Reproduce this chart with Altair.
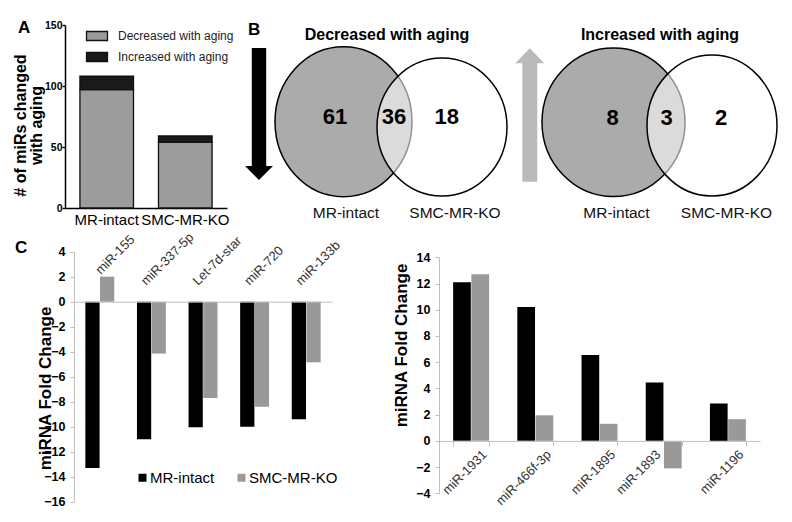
import altair as alt
import pandas as pd

# ------------------------------------------------------------------ data
groups = ["MR-intact", "SMC-MR-KO"]
changes = ["Decreased with aging", "Increased with aging"]
decreased_counts = [97, 54]
increased_counts = [11, 5]

venn_decreased = [61, 36, 18]          # MR-intact only, both, SMC-MR-KO only
venn_increased = [8, 3, 2]

series = ["MR-intact", "SMC-MR-KO"]
c_left_mirs = ["miR-155", "miR-337-5p", "Let-7d-star", "miR-720", "miR-133b"]
c_left_intact = [-13.3, -11.0, -10.05, -10.0, -9.4]
c_left_ko = [2.0, -4.15, -7.7, -8.4, -4.85]
c_right_mirs = ["miR-1931", "miR-466f-3p", "miR-1895", "miR-1893", "miR-1196"]
c_right_intact = [12.1, 10.2, 6.55, 4.45, 2.85]
c_right_ko = [12.7, 1.95, 1.3, -2.1, 1.65]

a_ticks = [0, 50, 100, 150]
c_left_ticks = [-16, -14, -12, -10, -8, -6, -4, -2, 0, 2, 4]
c_right_ticks = [-4, -2, 0, 2, 4, 6, 8, 10, 12, 14]

# ------------------------------------------------------------------ layout / style
W, H = 776, 506
FONT = "Liberation Sans"
AXGRAY = "#bfbfbf"

def ellipse(k):
    return f"M -1 0 A 1 {k} 0 1 1 1 0 A 1 {k} 0 1 1 -1 0 Z"

RECT_SYMBOL = "M -2 -0.86 L 2 -0.86 L 2 0.86 L -2 0.86 Z"
DOWN_ARROW = "M -0.109 -1 L 0.109 -1 L 0.109 0.788 L 0.212 0.788 L 0 1 L -0.212 0.788 L -0.109 0.788 Z"
UP_ARROW = "M -0.112 1 L 0.112 1 L 0.112 -0.775 L 0.217 -0.775 L 0 -1 L -0.217 -0.775 L -0.112 -0.775 Z"

# ------------------------------------------------------------------ panel A
dfA = pd.DataFrame({
    "group": groups * 2,
    "change": [changes[0]] * 2 + [changes[1]] * 2,
    "count": decreased_counts + increased_counts,
    "stackorder": [0, 0, 1, 1],
})
panelA = alt.Chart(dfA).mark_bar(stroke="#111111", strokeWidth=1.3).encode(
    x=alt.X("group:N", sort=groups,
            scale=alt.Scale(domain=groups, range=[57, 219], paddingInner=0.318, paddingOuter=0.19),
            axis=alt.Axis(orient="bottom", offset=200 - H, title=None, ticks=False,
                          domainColor="#000000", domainWidth=1.5, labelAngle=0,
                          labelFont=FONT, labelFontSize=15, labelColor="#000000", labelPadding=4)),
    y=alt.Y("count:Q", stack="zero",
            scale=alt.Scale(domain=[0, 150], range=[200, 17], nice=False),
            axis=alt.Axis(orient="left", offset=-57, values=a_ticks,
                          domainColor="#000000", domainWidth=1.5, tickColor="#000000", tickWidth=1.5,
                          tickSize=3, labelFont=FONT, labelFontWeight="bold", labelFontSize=10.5,
                          labelColor="#000000", labelPadding=0,
                          title=["# of miRs changed", "with aging"], titleFont=FONT,
                          titleFontSize=16, titleFontWeight="bold", titleColor="#000000",
                          titleAngle=270, titleAlign="center", titleBaseline="middle",
                          titleLineHeight=16.5, titleX=-45, titleY=117)),
    color=alt.Color("change:N",
                    scale=alt.Scale(domain=changes, range=["#9c9c9c", "#1a1a1a"]),
                    legend=alt.Legend(orient="none", legendX=83, legendY=22, title=None,
                                      symbolType=RECT_SYMBOL, symbolSize=110,
                                      symbolStrokeColor="#111111", symbolStrokeWidth=1.3,
                                      labelFont=FONT, labelFontSize=12, labelColor="#222222",
                                      labelOffset=15, rowPadding=5, padding=0)),
    order=alt.Order("stackorder:Q"),
)

# ------------------------------------------------------------------ panel B (Venn diagrams)
def circle(cx, cy, rx, ry, fill, fill_opacity):
    return alt.Chart(pd.DataFrame({"k": [0]})).mark_point(
        shape=ellipse(round(ry / rx, 3)), size=(2 * rx) ** 2, filled=True,
        fill=fill, fillOpacity=fill_opacity, opacity=1, stroke="#000000",
        strokeOpacity=1, strokeWidth=1.5,
    ).encode(x=alt.value(cx), y=alt.value(cy))

venn_circles = [
    circle(335.5, 113.7, 68.5, 75.0, "#ababab", 1.0),
    circle(434.0, 119.0, 65.0, 69.0, "#ffffff", 0.57),
    circle(605.5, 114.3, 71.5, 74.3, "#ababab", 1.0),
    circle(704.0, 117.5, 65.0, 70.5, "#ffffff", 0.57),
]

df_counts = pd.DataFrame({
    "n": [str(v) for v in venn_decreased + venn_increased],
    "px": [327, 386, 438.7, 604.5, 658.7, 713],
    "py": [109, 109, 109, 109.5, 109.5, 109.5],
})
venn_numbers = alt.Chart(df_counts).mark_text(
    font=FONT, fontSize=22, fontWeight="bold", color="#000000", baseline="middle", align="center"
).encode(x=alt.X("px:Q", scale=None, axis=None), y=alt.Y("py:Q", scale=None, axis=None), text="n:N")

df_setlabels = pd.DataFrame({
    "label": groups * 2,
    "px": [338, 447, 608.5, 718.5],
    "py": [204.7] * 4,
})
venn_setlabels = alt.Chart(df_setlabels).mark_text(
    font=FONT, fontSize=15.5, color="#111111", baseline="middle", align="center"
).encode(x=alt.X("px:Q", scale=None, axis=None), y=alt.Y("py:Q", scale=None, axis=None), text="label:N")

df_titles = pd.DataFrame({"t": changes, "px": [379, 652], "py": [31.5, 31.5]})
venn_titles = alt.Chart(df_titles).mark_text(
    font=FONT, fontSize=16, fontWeight="bold", color="#000000", baseline="alphabetic", align="center"
).encode(x=alt.X("px:Q", scale=None, axis=None), y=alt.Y("py:Q", scale=None, axis=None), text="t:N")

arrow_down = alt.Chart(pd.DataFrame({"k": [0]})).mark_point(
    shape=DOWN_ARROW, size=17424, filled=True, fill="#000000", opacity=1, strokeWidth=0
).encode(x=alt.value(251), y=alt.value(106))
arrow_up = alt.Chart(pd.DataFrame({"k": [0]})).mark_point(
    shape=UP_ARROW, size=17796, filled=True, fill="#bababa", opacity=1, strokeWidth=0
).encode(x=alt.value(521.8), y=alt.value(107))

df_letters = pd.DataFrame({"t": ["A", "B", "C"], "px": [10, 240, 7], "py": [25.3, 27, 245]})
letters = alt.Chart(df_letters).mark_text(
    font=FONT, fontSize=17, fontWeight="bold", color="#000000", baseline="alphabetic", align="left"
).encode(x=alt.X("px:Q", scale=None, axis=None), y=alt.Y("py:Q", scale=None, axis=None), text="t:N")

# ------------------------------------------------------------------ panel C
# labels moved off a bar in the original figure
RAISED = "datum.value === 'miR-155'"
SHIFTED = "datum.value === 'miR-1893'"

def fold_panel(mirs, intact, ko, ticks, xrange, yrange, ydomain, zero_y, left_x,
               top_labels, title_x, title_y, show_legend):
    df = pd.DataFrame({
        "mir": mirs * 2,
        "series": [series[0]] * len(mirs) + [series[1]] * len(mirs),
        "fold": intact + ko,
    })
    if top_labels:
        xaxis = alt.Axis(orient="top", offset=-zero_y, title=None, ticks=False, zindex=1,
                         domainColor=AXGRAY, domainWidth=1, labelAngle=-45, labelAlign="left",
                         labelBaseline="bottom",
                         labelPadding={"condition": {"test": RAISED, "value": 25}, "value": 14},
                         labelOffset={"condition": {"test": RAISED, "value": 3}, "value": -3},
                         labelFont=FONT, labelFontSize=13, labelColor="#333333",
                         labelOverlap=False, labelBound=False)
    else:
        xaxis = alt.Axis(orient="bottom", offset=zero_y - H, title=None, ticks=True, zindex=1,
                         tickBand="extent", tickSize=5, tickColor=AXGRAY,
                         domainColor=AXGRAY, domainWidth=1, labelAngle=-45, labelAlign="right",
                         labelBaseline="top", labelPadding=2,
                         labelOffset={"condition": {"test": SHIFTED, "value": -10}, "value": 9},
                         labelFont=FONT, labelFontSize=13, labelColor="#333333",
                         labelOverlap=False, labelBound=False)
    legend = None
    if show_legend:
        legend = alt.Legend(orient="none", legendX=127, legendY=462, direction="horizontal",
                            title=None, symbolType="square", symbolSize=64, symbolStrokeWidth=0,
                            labelFont=FONT, labelFontSize=15, labelColor="#000000",
                            labelOffset=0, columnPadding=19, padding=0)
    return alt.Chart(df).mark_bar().encode(
        x=alt.X("mir:N", sort=mirs,
                scale=alt.Scale(domain=mirs, range=xrange, paddingInner=0.44, paddingOuter=0.22),
                axis=xaxis),
        xOffset=alt.XOffset("series:N", sort=series,
                            scale=alt.Scale(domain=series, paddingInner=0.03)),
        y=alt.Y("fold:Q", stack=None,
                scale=alt.Scale(domain=ydomain, range=yrange, nice=False, zero=False),
                axis=alt.Axis(orient="left", offset=-left_x, values=ticks,
                              domainColor=AXGRAY, tickColor=AXGRAY, tickSize=4,
                              labelFont=FONT, labelFontWeight="bold", labelFontSize=12.5,
                              labelColor="#000000", labelPadding=5,
                              title="miRNA Fold Change", titleFont=FONT, titleFontSize=17,
                              titleFontWeight="bold", titleColor="#000000", titleAngle=270,
                              titleAlign="center", titleBaseline="middle",
                              titleX=title_x, titleY=title_y)),
        color=alt.Color("series:N",
                        scale=alt.Scale(domain=series, range=["#000000", "#999999"]),
                        legend=legend),
    )

panelC1 = fold_panel(c_left_mirs, c_left_intact, c_left_ko, c_left_ticks,
                     [66, 324], [493.7, 243.7], [-16, 4], 293.7, 66,
                     True, -29, 380, True)
panelC2 = fold_panel(c_right_mirs, c_right_intact, c_right_ko, c_right_ticks,
                     [431, 752], [485.3, 249.3], [-4, 14], 432.9, 431,
                     False, -38, 337, False)

# ------------------------------------------------------------------ assemble
chart = alt.layer(
    panelA, *venn_circles, venn_numbers, venn_setlabels, venn_titles,
    arrow_down, arrow_up, letters, panelC1, panelC2,
).resolve_scale(
    x="independent", y="independent", color="independent", xOffset="independent"
).properties(
    width=W, height=H, padding=0, background="#ffffff",
    autosize=alt.AutoSizeParams(type="none"),
).configure_view(stroke=None).configure_axis(grid=False)

chart.save("out.html", embed_options={"renderer": "svg", "actions": False})
